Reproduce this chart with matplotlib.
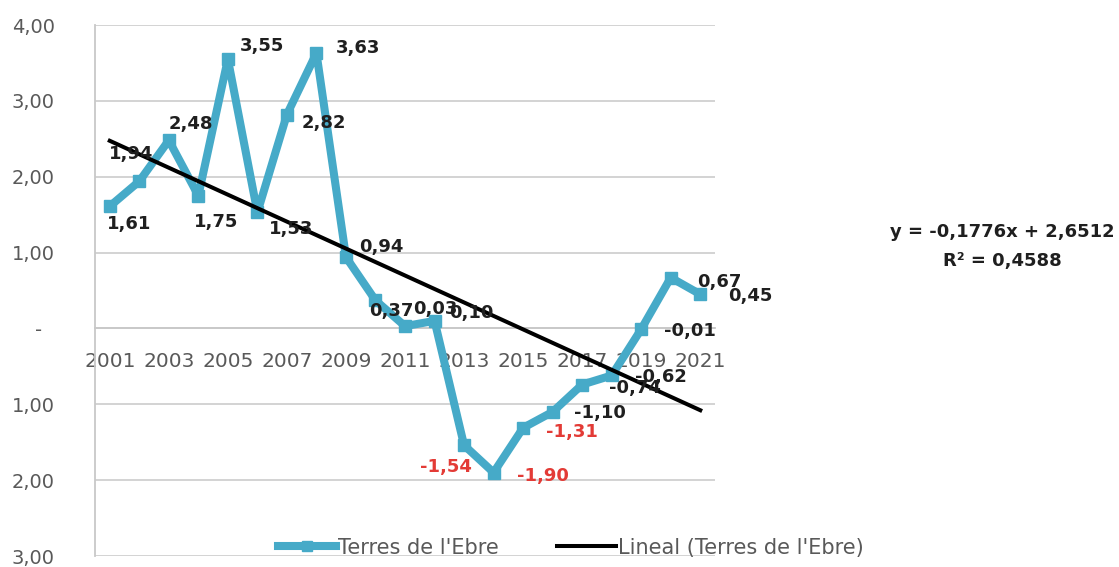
import matplotlib
matplotlib.use("Agg")
import matplotlib.pyplot as plt
import numpy as np

years = list(range(2001, 2022))
values = [1.61, 1.94, 2.48, 1.75, 3.55, 1.53, 2.82, 3.63, 0.94, 0.37, 0.03,
          0.10, -1.54, -1.90, -1.31, -1.10, -0.74, -0.62, -0.01, 0.67, 0.45]
value_labels = ['1,61', '1,94', '2,48', '1,75', '3,55', '1,53', '2,82', '3,63',
                '0,94', '0,37', '0,03', '0,10', '-1,54', '-1,90', '-1,31',
                '-1,10', '-0,74', '-0,62', '-0,01', '0,67', '0,45']
red_labels = ['-1,54', '-1,90', '-1,31']
slope = -0.1776
intercept = 2.6512
yticks = [4, 3, 2, 1, 0, -1, -2, -3]
ytick_labels = ['4,00', '3,00', '2,00', '1,00', '-  ', '1,00', '2,00', '3,00']
xtick_years = years[::2]

# label offsets in pixels (dx, dy)
offsets = [(19, -18), (-8, 27), (22, 16), (18, -26), (34, 13), (34, -17),
           (37, -8), (42, 5), (35, 10), (16, -11), (30, 17), (37, 8),
           (-18, -22), (49, -3), (49, -4), (47, -1), (53, -3), (49, -2),
           (49, -2), (49, -4), (50, -2)]

blue = '#46AAC8'
gray = '#595959'

fig = plt.figure(figsize=(11.19, 5.67), dpi=100)
ax = fig.add_axes([0.0849, 0.0194, 0.5541, 0.9365])

x = np.arange(len(years))
ax.plot(x, values, '-s', color=blue, lw=5.8, markersize=8.5,
        label="Terres de l'Ebre", zorder=3)
trend = slope * (x + 1) + intercept
ax.plot(x, trend, '-', color='black', lw=2.9, label="Lineal (Terres de l'Ebre)",
        zorder=4)

for i, (v, lab) in enumerate(zip(values, value_labels)):
    c = '#E33B36' if lab in red_labels else '#1f1f1f'
    ax.annotate(lab, (x[i], v), xytext=offsets[i], textcoords='offset pixels',
                ha='center', va='center', fontsize=13, fontweight='bold',
                color=c, zorder=5)

ax.set_xlim(-0.5, len(years) - 0.5)
ax.set_ylim(-3, 4)
ax.set_yticks(yticks)
ax.set_yticklabels(ytick_labels)
ax.set_xticks(x[::2])
ax.set_xticklabels([str(y) for y in xtick_years])
ax.grid(axis='y', color='#d0d0d0', lw=1.3)
ax.set_axisbelow(True)

for s in ['top', 'right']:
    ax.spines[s].set_visible(False)
ax.spines['left'].set_color('#c8c8c8')
ax.spines['left'].set_linewidth(1.3)
ax.spines['bottom'].set_position(('data', 0))
ax.spines['bottom'].set_color('#c8c8c8')
ax.spines['bottom'].set_linewidth(1.3)
ax.tick_params(axis='y', length=0, pad=29, labelsize=14, labelcolor=gray)
ax.tick_params(axis='x', length=0, pad=17, labelsize=14.5, labelcolor=gray)

fig.text(0.896, 0.591, 'y = -0,1776x + 2,6512', ha='center', va='center',
         fontsize=13, fontweight='bold', color='#1f1f1f')
fig.text(0.896, 0.540, 'R² = 0,4588', ha='center', va='center',
         fontsize=13, fontweight='bold', color='#1f1f1f')

leg = fig.legend(loc='center', bbox_to_anchor=(0.510, 0.034), ncol=2,
                 frameon=False, fontsize=15, handlelength=2.8,
                 columnspacing=2.8, handletextpad=0.1, markerscale=0.9)
for t in leg.get_texts():
    t.set_color(gray)

fig.savefig('out.png', dpi=100)
